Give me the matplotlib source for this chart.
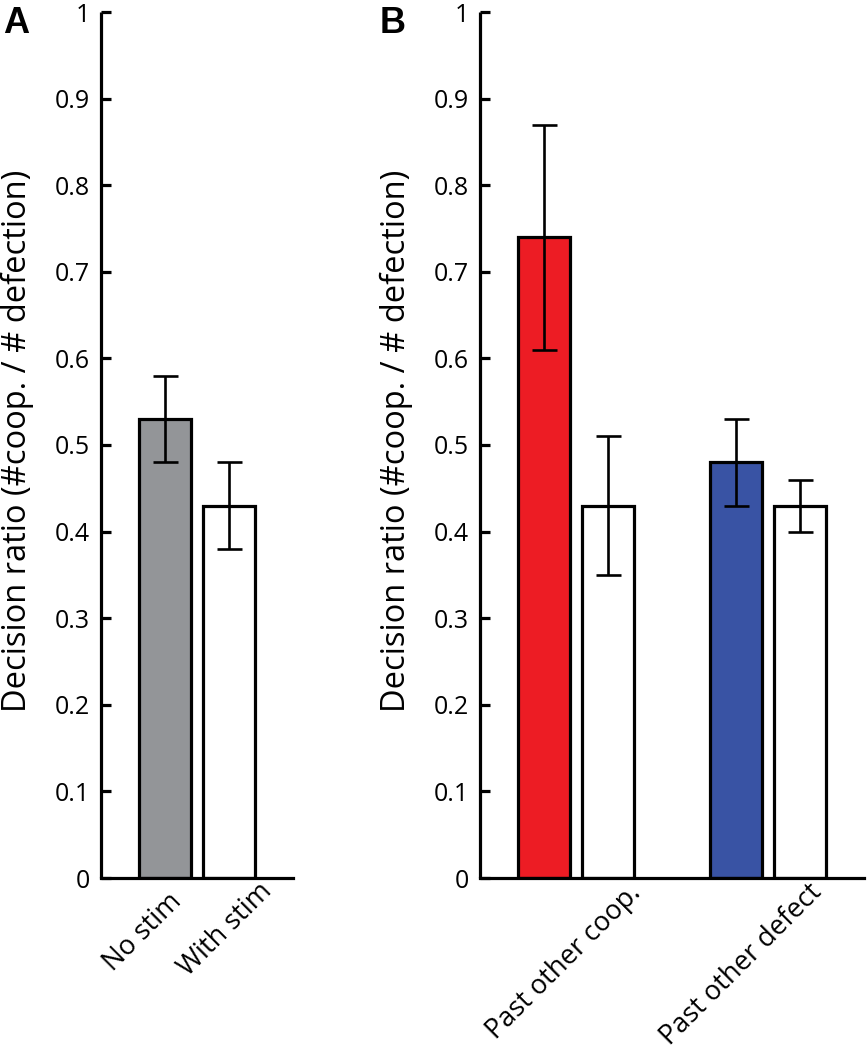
import matplotlib
matplotlib.use('Agg')
import matplotlib.pyplot as plt
import matplotlib.transforms as mtransforms

plt.rcParams['font.family'] = ['Open Sans', 'DejaVu Sans']

# Данные панели A
a_labels = ['No stim', 'With stim']
a_values = [0.53, 0.43]
a_errors = [0.05, 0.05]
a_colors = ['#939598', 'white']

# Данные панели B
b_groups = ['Past other coop.', 'Past other defect']
b_values = [0.74, 0.43, 0.48, 0.43]
b_errors = [0.13, 0.08, 0.05, 0.03]
b_colors = ['#ED1C24', 'white', '#3953A4', 'white']

y_ticks = [0, 0.1, 0.2, 0.3, 0.4, 0.5, 0.6, 0.7, 0.8, 0.9, 1]
y_tick_labels = ['0', '0.1', '0.2', '0.3', '0.4', '0.5', '0.6', '0.7', '0.8', '0.9', '1']
ylabel = 'Decision ratio (#coop. / # defection)'

W, H = 868, 1050
fig = plt.figure(figsize=(W / 100, H / 100), dpi=100)

bottom = 1 - 878 / H
height = (878 - 12) / H
ax_a = fig.add_axes([101 / W, bottom, 192 / W, height])
ax_b = fig.add_axes([480 / W, bottom, 384 / W, height])


def style_axis(ax, xmax, width_px):
    ax.set_xlim(0, xmax)
    ax.set_ylim(0, 1)
    ax.spines['top'].set_visible(False)
    ax.spines['right'].set_visible(False)
    ax.spines['left'].set_linewidth(2.3)
    ax.spines['bottom'].set_linewidth(2.3)
    ax.spines['left'].set_capstyle('butt')
    ax.set_yticks(y_ticks)
    ax.set_yticklabels(y_tick_labels)
    ax.tick_params(axis='y', direction='in', length=7, width=2.3, pad=8, labelsize=18)
    ax.tick_params(axis='x', length=0, pad=0, labelsize=19.5)
    ax.set_ylabel(ylabel, fontsize=23.5)
    # подпись оси Y на 67 px левее оси
    ax.yaxis.set_label_coords(-67 / width_px, 0.505)


def draw_bars(ax, pos, values, errors, colors):
    ax.bar(pos, values, width=0.8, color=colors, edgecolor='black', linewidth=2.3, zorder=2)
    ax.errorbar(pos, values, yerr=errors, fmt='none', ecolor='black',
                elinewidth=1.9, capsize=9, capthick=1.9, zorder=3)


def place_labels(ax, offsets):
    # центр повернутой подписи смещаем относительно деления (px)
    for lbl, (dx, dy) in zip(ax.get_xticklabels(), offsets):
        off = mtransforms.ScaledTranslation(dx / 100, -dy / 100, fig.dpi_scale_trans)
        lbl.set_transform(lbl.get_transform() + off)


# Панель A
pos_a = [1, 2]
draw_bars(ax_a, pos_a, a_values, a_errors, a_colors)
style_axis(ax_a, 3, 192)
ax_a.set_xticks(pos_a)
ax_a.set_xticklabels(a_labels, rotation=45, ha='center', va='center', rotation_mode='anchor')
place_labels(ax_a, [(-22, 54), (-4, 52)])

# Панель B
pos_b = [1, 2, 4, 5]
draw_bars(ax_b, pos_b, b_values, b_errors, b_colors)
style_axis(ax_b, 6, 384)
ax_b.set_xticks([1.5, 4.5])
ax_b.set_xticklabels(b_groups, rotation=45, ha='center', va='center', rotation_mode='anchor')
place_labels(ax_b, [(-12, 84), (-27, 87)])

fig.text(3 / W, 1 - 6 / H, 'A', fontsize=26, fontweight='bold', family='Liberation Sans', va='top', ha='left')
fig.text(380 / W, 1 - 6 / H, 'B', fontsize=26, fontweight='bold', family='Liberation Sans', va='top', ha='left')

fig.savefig('out.png', dpi=100)
